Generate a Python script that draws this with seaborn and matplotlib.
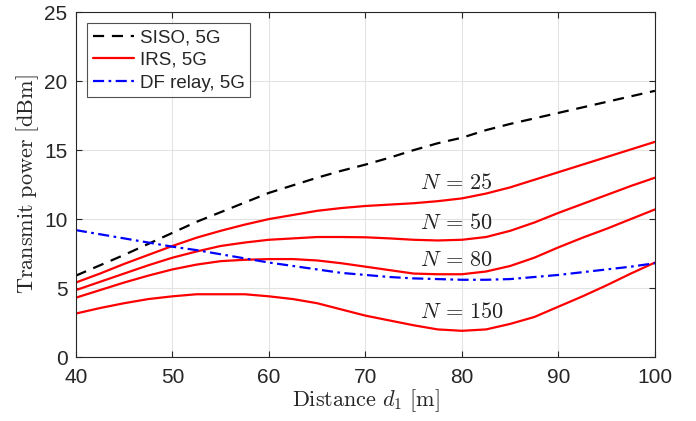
import numpy as np
import pandas as pd
import matplotlib
matplotlib.use('Agg')
import matplotlib.pyplot as plt
import seaborn as sns

# distance d1 [m], read every 2.5 m
d1 = [40, 42.5, 45, 47.5, 50, 52.5, 55, 57.5, 60, 62.5, 65, 67.5, 70,
      72.5, 75, 77.5, 80, 82.5, 85, 87.5, 90, 92.5, 95, 97.5, 100]

siso = [5.9, 6.65, 7.4, 8.2, 9.0, 9.8, 10.5, 11.2, 11.9, 12.45, 13.0, 13.5, 13.95,
        14.45, 15.0, 15.5, 15.9, 16.45, 16.9, 17.3, 17.7, 18.1, 18.5, 18.9, 19.3]
irs_25 = [5.4, 6.05, 6.75, 7.4, 8.05, 8.65, 9.15, 9.6, 10.0, 10.3, 10.6, 10.8, 10.95,
          11.05, 11.15, 11.3, 11.5, 11.85, 12.3, 12.85, 13.4, 13.95, 14.5, 15.05, 15.6]
irs_50 = [4.85, 5.45, 6.05, 6.65, 7.2, 7.65, 8.05, 8.3, 8.5, 8.6, 8.7, 8.7, 8.68,
          8.6, 8.5, 8.45, 8.5, 8.7, 9.15, 9.75, 10.45, 11.1, 11.75, 12.4, 13.0]
irs_80 = [4.3, 4.85, 5.4, 5.9, 6.35, 6.7, 6.95, 7.05, 7.1, 7.1, 7.0, 6.8, 6.55,
          6.3, 6.05, 6.0, 6.0, 6.2, 6.6, 7.2, 7.95, 8.65, 9.3, 10.0, 10.7]
irs_150 = [3.15, 3.55, 3.9, 4.2, 4.4, 4.55, 4.55, 4.55, 4.4, 4.2, 3.9, 3.45, 3.0,
           2.65, 2.3, 2.0, 1.9, 2.0, 2.4, 2.9, 3.65, 4.4, 5.2, 6.05, 6.85]
df_relay = [9.2, 8.9, 8.6, 8.3, 8.0, 7.75, 7.45, 7.15, 6.85, 6.6, 6.35, 6.1, 5.95,
            5.8, 5.7, 5.65, 5.6, 5.6, 5.65, 5.8, 5.95, 6.15, 6.35, 6.55, 6.8]

n_labels = [r'$N\,=\,25$', r'$N\,=\,50$', r'$N\,=\,80$', r'$N\,=\,150$']
label_x = [79.4, 79.4, 79.4, 80.0]
label_y = [12.6, 9.65, 7.0, 3.2]

sns.set_theme(style='ticks')
plt.rcParams['font.family'] = ['Liberation Sans', 'DejaVu Sans']
plt.rcParams['mathtext.fontset'] = 'cm'

fig = plt.figure(figsize=(6.96, 4.21), dpi=100)
ax = fig.add_axes([0.109, 0.152, 0.832, 0.819])

lw = 1.6
sns.lineplot(x=d1, y=siso, ax=ax, color='black', lw=lw, label='SISO, 5G',
             linestyle=(0, (5, 3.5)))
sns.lineplot(x=d1, y=irs_25, ax=ax, color='#ff0000', lw=lw, label='IRS, 5G')
for y in [irs_50, irs_80, irs_150]:
    sns.lineplot(x=d1, y=y, ax=ax, color='#ff0000', lw=lw)
sns.lineplot(x=d1, y=df_relay, ax=ax, color='#0000ff', lw=lw, label='DF relay, 5G',
             linestyle=(0, (5, 2, 1.2, 2)))

for t, x, y in zip(n_labels, label_x, label_y):
    ax.text(x, y, t, fontsize=16, ha='center', va='center', color='#222222')

ax.set_xlim(40, 100)
ax.set_ylim(0, 25)
ax.set_xticks(range(40, 101, 10))
ax.set_yticks(range(0, 26, 5))
ax.grid(True, color='#e3e3e3', lw=0.8)
ax.tick_params(direction='in', top=True, right=True, labelsize=15,
               colors='#262626', length=4, width=0.8)
ax.tick_params(axis='x', pad=8)
ax.tick_params(axis='y', pad=6)
for s in ax.spines.values():
    s.set_color('#262626')
    s.set_linewidth(0.8)

ax.set_xlabel(r'$\mathrm{Distance}\ d_1\ [\mathrm{m}]$', fontsize=16, labelpad=0)
ax.set_ylabel(r'$\mathrm{Transmit\ power\ [dBm]}$', fontsize=16, labelpad=2)

leg = ax.legend(loc='upper left', fontsize=13.5, frameon=True, fancybox=False,
                edgecolor='#262626', handlelength=2.2, handletextpad=0.3,
                borderaxespad=0.6, borderpad=0.3, labelspacing=0.3)
leg.get_frame().set_linewidth(0.8)

fig.savefig('out.png', dpi=100)
